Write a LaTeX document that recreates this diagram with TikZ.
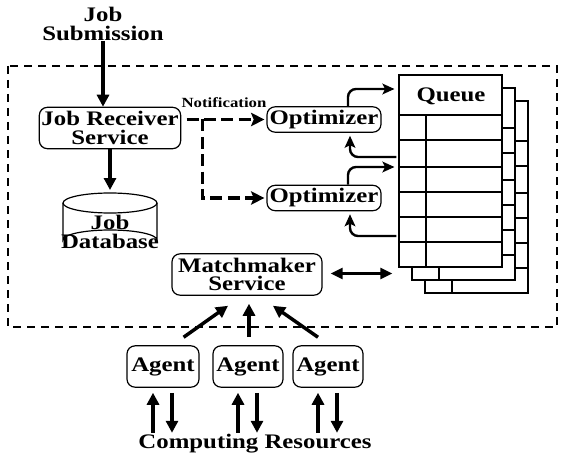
\documentclass[tikz,border=0pt]{standalone}
\usepackage{fontspec}
\setmainfont{Liberation Serif}[FakeStretch=1.2]
\usetikzlibrary{arrows.meta,calc}

\begin{document}
\begin{tikzpicture}[x=0.75pt,y=-0.75pt,
  lbl/.style={font=\fontsize{15.5}{14}\selectfont\bfseries, align=center, inner sep=0pt},
  rbox/.style={lbl, draw, line width=0.9pt, rounded corners=6pt, fill=white},
  sheet/.style={draw, line width=0.8pt, fill=white, minimum width=77.25pt, minimum height=144pt, inner sep=0pt},
  arr/.style={line width=2.6pt, -{Triangle[length=9pt,width=9pt]}},
  darr/.style={line width=2.6pt, dash pattern=on 9pt off 4pt, -{Stealth[length=10pt,width=10pt,inset=2pt]}},
  carr/.style={line width=1.8pt, rounded corners=6pt, -{Stealth[length=9pt,width=8pt,inset=2pt]}},
  biarr/.style={line width=2.4pt, {Triangle[length=9pt,width=8pt]}-{Triangle[length=9pt,width=8pt]}}
]
\useasboundingbox (0,0) rectangle (563,456);

% system boundary
\draw[line width=0.8pt, dash pattern=on 6pt off 4.5pt] (8,66) rectangle (557,327);

% labels and services
\node[lbl] (sub) at (103,24) {Job\\Submission};
\node[rbox, minimum width=106pt, minimum height=31pt] (jrs) at (110,128) {Job Receiver\\Service};
\node[lbl, font=\fontsize{10.5}{12}\selectfont\bfseries] (note) at (224,103) {Notification};
\node[rbox, minimum width=85.5pt, minimum height=19pt] (opt1) at (324,119.5) {Optimizer};
\node[rbox, minimum width=85.5pt, minimum height=19pt] (opt2) at (324,198) {Optimizer};
\node[rbox, minimum width=112.5pt, minimum height=31pt] (mm) at (247,274.5) {Matchmaker\\Service};
\node[rbox, minimum width=54pt, minimum height=31pt] (a1) at (163,366.5) {Agent};
\node[rbox, minimum width=52.5pt, minimum height=31pt] (a2) at (248,366.5) {Agent};
\node[rbox, minimum width=52.5pt, minimum height=31pt] (a3) at (328,366.5) {Agent};
\node[lbl] (comp) at (255,444) {Computing Resources};

% job database cylinder
\draw[line width=0.9pt, fill=white] (63,203) -- (63,240) arc[start angle=180, end angle=360, x radius=47, y radius=10] -- (157,203);
\draw[line width=0.9pt] (110,203) ellipse[x radius=47, y radius=10];
\node[lbl, minimum width=70pt, minimum height=42pt] (db) at (110,221) {};
\node[lbl] at (110,232) {Job\\Database};

% stacked queue sheets
\node[sheet] (q3) at (476.5,197) {};
\node[sheet] (q2) at (463.5,184) {};
\node[sheet] (q) at (450.5,171) {};
\foreach \o in {26,13,0}{
  \draw[line width=0.8pt, fill=white] (399+\o,75+\o) rectangle (502+\o,267+\o);
  \foreach \r in {40,65,92,117,142,167}
    \draw[line width=0.8pt] (399+\o,75+\o+\r) -- (502+\o,75+\o+\r);
  \draw[line width=0.8pt] (426+\o,115+\o) -- (426+\o,267+\o);
}
\node[lbl] (qt) at (451,96) {Queue};

% connectors
\draw[arr] (sub.south) -- (sub.south |- jrs.north);
\draw[arr] (jrs.south) -- ([shift={(0,-3)}]db.north |- 0,193);
\draw[darr, shorten <=4pt, shorten >=1.5pt] (jrs.east |- opt1.west) -- (opt1.west);
\draw[darr, shorten >=1.5pt] ([shift={(21,0)}]jrs.east |- opt1.west) |- (opt2.west);

\draw[carr, shorten >=3pt] ([shift={(24,0)}]opt1.north) |- (q.west |- 0,89);
\draw[carr] ([shift={(-2,0)}]q.west |- 0,157) -| ([shift={(26,3)}]opt1.south);
\draw[carr, shorten >=3pt] ([shift={(24,0)}]opt2.north) |- (q.west |- 0,167);
\draw[carr] ([shift={(-2,0)}]q.west |- 0,236) -| ([shift={(26,3)}]opt2.south);

\draw[biarr] ([shift={(8,-1)}]mm.east) -- ([shift={(-6,0)}]q.west |- 0,273.5);

\draw[arr] ([shift={(-16,-8)}]a1.north east) -- ([shift={(-19,10)}]mm.south);
\draw[arr] ([shift={(1,-8)}]a2.north) -- ([shift={(2,8)}]mm.south);
\draw[arr] ([shift={(-10,-8)}]a3.north) -- ([shift={(26,10)}]mm.south);

\foreach \n in {a1,a2,a3}{
  \draw[arr] ([shift={(-10,45)}]\n.south) -- ([shift={(-10,5)}]\n.south);
  \draw[arr] ([shift={(9,5)}]\n.south) -- ([shift={(9,45)}]\n.south);
}
\end{tikzpicture}
\end{document}
